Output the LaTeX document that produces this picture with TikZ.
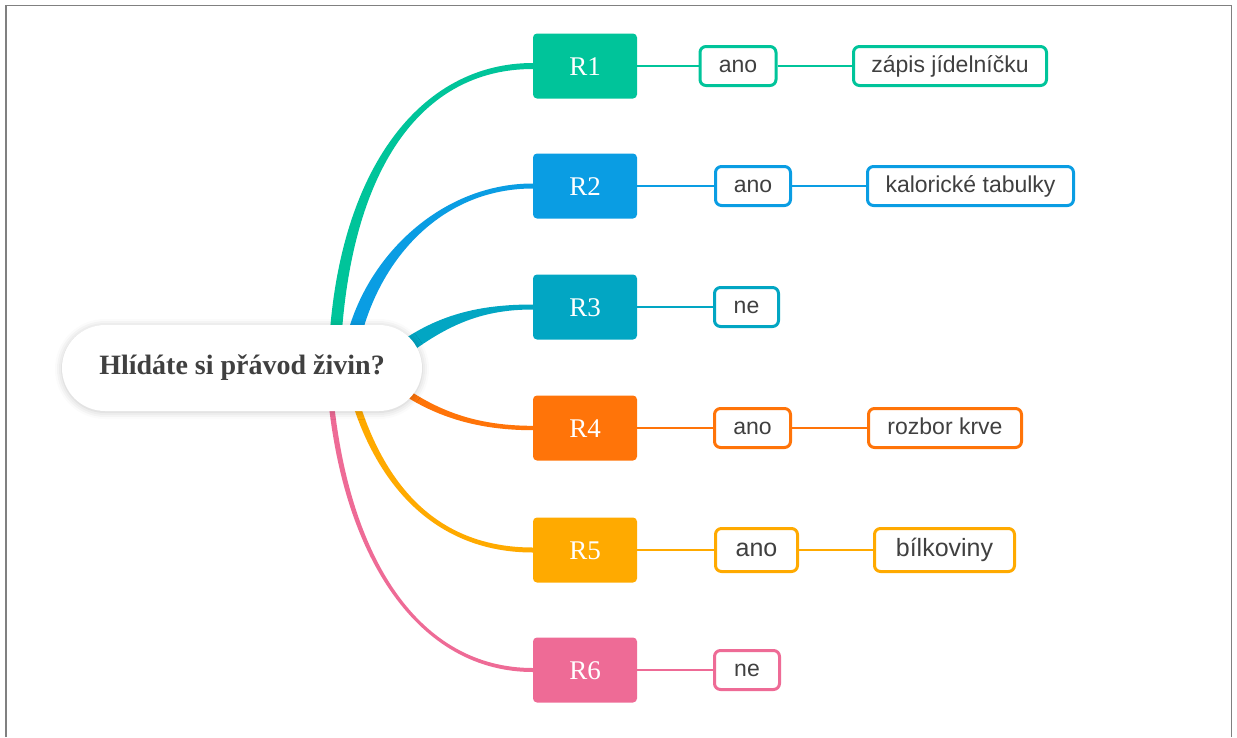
\documentclass[tikz,border=0pt]{standalone}
\usepackage{fontspec}
\setmainfont{Liberation Serif}
\setsansfont{Liberation Sans}
\usetikzlibrary{calc,shadows.blur}
\pgfdeclarelayer{background}
\pgfsetlayers{background,main}

\definecolor{cgreen}{HTML}{00C49A}
\definecolor{cblue}{HTML}{0A9DE3}
\definecolor{cteal}{HTML}{02A6C3}
\definecolor{corange}{HTML}{FF7409}
\definecolor{camber}{HTML}{FFAA00}
\definecolor{cpink}{HTML}{EE6B96}
\definecolor{ink}{HTML}{404040}
\definecolor{framegray}{HTML}{808080}

% tapered branch: colour, root, control 1, control 2, end, half width at root, half width at end
\newcommand\taperbranch[7]{%
  \coordinate (tA) at ($(#2)!#6!90:(#3)$);
  \coordinate (tB) at ($(#2)!#6!-90:(#3)$);
  \coordinate (tC) at ($(#5)!#7!-90:(#4)$);
  \coordinate (tD) at ($(#5)!#7!90:(#4)$);
  \fill[#1] (tA) .. controls ($(#3)+(tA)-(#2)$) and ($(#4)+(tC)-(#5)$) .. (tC)
    -- (tD) .. controls ($(#4)+(tD)-(#5)$) and ($(#3)+(tB)-(#2)$) .. (tB) -- cycle;
}

\tikzset{
  rbox/.style={fill=#1, rounded corners=4pt, minimum width=104pt, minimum height=65pt,
    inner sep=0pt, text=white, font=\fontsize{27}{31}\selectfont,
    text height=18pt, text depth=0pt},
  leaf/.style={draw=#1, line width=3pt, rounded corners=6pt, fill=white,
    minimum height=39pt, inner sep=0pt, text=ink, font=\sffamily\fontsize{23}{27}\selectfont,
    text height=16pt, text depth=4pt},
  bigleaf/.style={leaf=#1, minimum height=43pt, font=\sffamily\fontsize{25}{29}\selectfont,
    text height=17pt, text depth=4pt},
  twig/.style={draw=#1, line width=2pt},
}

\begin{document}
\begin{tikzpicture}[x=1pt, y=-1pt]
\useasboundingbox (0,0) rectangle (1237,737);

% page frame
\draw[framegray, line width=1.2pt] (6,737) -- (6,5.5) -- (1231.5,5.5) -- (1231.5,737);

% central question
\node[fill=white, rounded corners=43pt, minimum width=360pt, minimum height=86pt,
  blur shadow={shadow xshift=0pt, shadow yshift=-1pt, shadow blur radius=7pt, shadow opacity=22},
  text=ink, font=\bfseries\fontsize{28}{32}\selectfont] (Q) at (242,368) {Hlídáte si přávod živin?};

% first level
\node[rbox=cgreen]  (R1) at (585,66)  {R1};
\node[rbox=cblue]   (R2) at (585,186) {R2};
\node[rbox=cteal]   (R3) at (585,307) {R3};
\node[rbox=corange] (R4) at (585,428) {R4};
\node[rbox=camber]  (R5) at (585,550) {R5};
\node[rbox=cpink]   (R6) at (585,670) {R6};

% second level
\node[leaf=cgreen,  minimum width=76pt] (A1) at (738,66)  {ano};
\node[leaf=cblue,   minimum width=75pt] (A2) at (753,186) {ano};
\node[leaf=cteal,   minimum width=64pt] (A3) at (746.5,307) {ne};
\node[leaf=corange, minimum width=76pt] (A4) at (752.5,428) {ano};
\node[bigleaf=camber, minimum width=82pt] (A5) at (756.5,550) {ano};
\node[leaf=cpink,   minimum width=65pt] (A6) at (747,670) {ne};

% third level
\node[leaf=cgreen,  minimum width=193pt] (B1) at (950,66)    {zápis jídelníčku};
\node[leaf=cblue,   minimum width=206pt] (B2) at (970.5,186) {kalorické tabulky};
\node[leaf=corange, minimum width=153pt] (B4) at (945,428)   {rozbor krve};
\node[bigleaf=camber, minimum width=140pt] (B5) at (944.5,550) {bílkoviny};

% thin connectors
\draw[twig=cgreen]  (R1) -- (A1);  \draw[twig=cgreen]  (A1) -- (B1);
\draw[twig=cblue]   (R2) -- (A2);  \draw[twig=cblue]   (A2) -- (B2);
\draw[twig=cteal]   (R3) -- (A3);
\draw[twig=corange] (R4) -- (A4);  \draw[twig=corange] (A4) -- (B4);
\draw[twig=camber]  (R5) -- (A5);  \draw[twig=camber]  (A5) -- (B5);
\draw[twig=cpink]   (R6) -- (A6);

% roots of the main branches, hidden under the central node
\coordinate (q1) at ($(Q.center)+(93,-23)$);
\coordinate (q2) at ($(Q.center)+(110,-23)$);
\coordinate (q3) at ($(Q.center)+(153,-13)$);
\coordinate (q4) at ($(Q.center)+(153,17)$);
\coordinate (q5) at ($(Q.center)+(110,22)$);
\coordinate (q6) at ($(Q.center)+(88,22)$);

% main branches, thick at the root and thin at the box
\begin{pgfonlayer}{background}
\taperbranch{cgreen}{q1}{345,170}{420,66}{R1.west}{6pt}{3pt}
\taperbranch{cblue}{q2}{370,260}{440,186}{R2.west}{7pt}{2.5pt}
\taperbranch{cteal}{q3}{440,320}{480,307}{R3.west}{7.5pt}{2.5pt}
\taperbranch{corange}{q4}{430,410}{470,428}{R4.west}{3.5pt}{2.2pt}
\taperbranch{camber}{q5}{380,490}{440,550}{R5.west}{3.5pt}{2.5pt}
\taperbranch{cpink}{q6}{345,560}{420,670}{R6.west}{2.7pt}{2pt}
\end{pgfonlayer}
\end{tikzpicture}
\end{document}
